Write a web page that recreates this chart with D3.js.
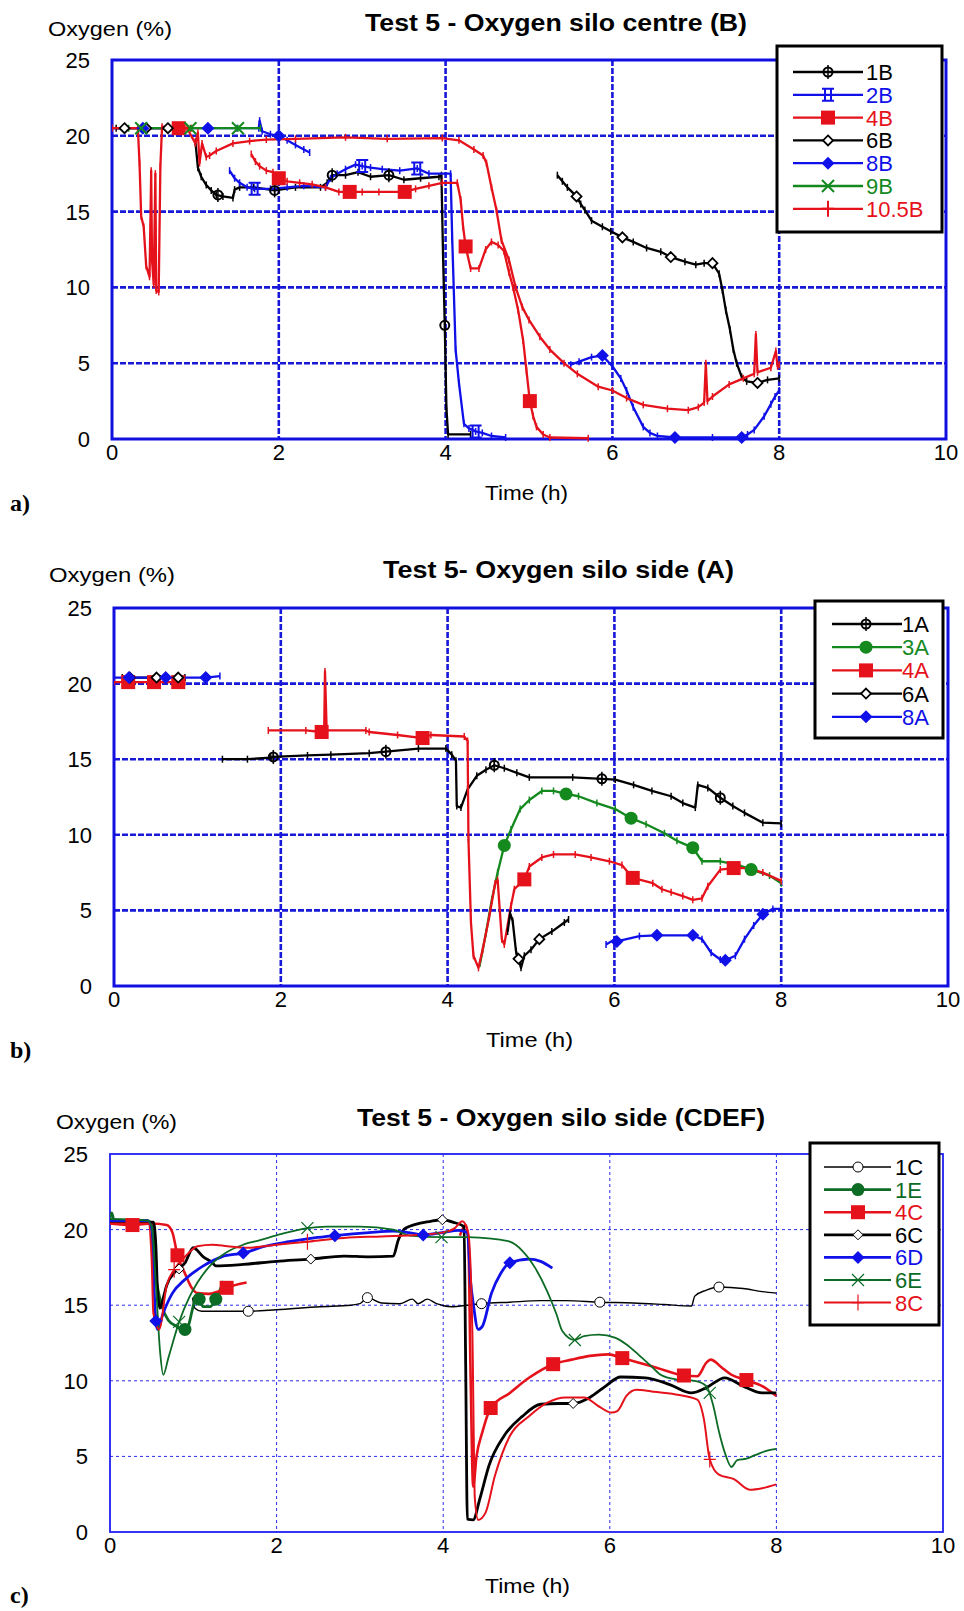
<!DOCTYPE html>
<html><head><meta charset="utf-8">
<script src="https://cdn.jsdelivr.net/npm/d3@7"></script>
<style>
html,body{margin:0;padding:0;background:#fff;}
svg{display:block;}
text{font-family:"Liberation Sans",Arial,Helvetica,sans-serif;}
</style></head><body>
<svg id="fig" width="964" height="1611"></svg>
<script>
// Shared axis ticks (time in hours, oxygen in %)
const timeTicks = [0, 2, 4, 6, 8, 10];
const oxygenTicks = [0, 5, 10, 15, 20, 25];

// ---------- (a) Test 5 - oxygen, silo centre (B) ----------
// [time h, O2 %]; null = gap in the record
const a1B = [[1.0,19.6],[1.03,17.9],[1.07,17.3],[1.13,16.75],[1.19,16.4],[1.25,16.1],[1.33,16.0],[1.45,15.9],[1.47,16.45],[1.53,16.6],[1.7,16.6],[1.95,16.4],[2.2,16.6],[2.5,16.6],[2.58,16.9],[2.64,17.4],[2.8,17.4],[2.95,17.6],[3.1,17.3],[3.32,17.4],[3.5,17.1],[3.7,17.2],[3.92,17.3],[3.95,17.4],[3.97,12.0],[3.99,7.5],[4.01,2.0],[4.03,0.3],[4.3,0.3]];
const a1Bmarks = [[1.27,16.1],[1.95,16.4],[2.64,17.4],[3.32,17.4],[3.99,7.5]];

const a2B = [[1.41,17.7],[1.47,17.2],[1.53,16.9],[1.62,16.6],[1.71,16.5],[1.9,16.5],[2.1,16.6],[2.3,16.7],[2.56,16.6],[2.62,17.2],[2.7,17.5],[2.8,17.8],[2.92,18.1],[3.0,18.0],[3.1,17.9],[3.24,17.8],[3.45,17.7],[3.66,17.85],[3.8,17.5],[4.06,17.5],[4.08,13.1],[4.12,5.9],[4.16,3.7],[4.22,1.0],[4.28,0.7],[4.36,0.5],[4.44,0.4],[4.55,0.2],[4.72,0.1]];
const a2Bmarks = [[1.71,16.5],[3.0,18.0],[3.66,17.85],[4.36,0.5]];

const a4B = [[0.0,20.5],[0.95,20.5],null,[1.67,18.8],[1.72,18.3],[1.77,18.0],[1.85,17.7],[1.93,17.6],[2.0,17.2],[2.1,17.0],[2.25,16.9],[2.4,16.8],[2.56,16.6],[2.72,16.3],[2.85,16.3],[3.0,16.3],[3.2,16.3],[3.51,16.3],[3.64,16.5],[3.8,16.7],[3.96,16.9],[4.14,16.9],[4.18,15.8],[4.21,14.0],[4.24,12.7],[4.3,11.25],[4.4,11.25],[4.48,12.5],[4.55,13.0],[4.63,12.8],[4.7,12.4],[4.76,11.0],[4.81,10.0],[4.87,8.5],[4.93,6.5],[4.97,4.5],[5.01,2.5],[5.05,1.5],[5.09,0.8],[5.17,0.3],[5.25,0.1],[5.71,0.05]];
const a4Bmarks = [[0.8,20.5],[2.0,17.2],[2.85,16.3],[3.51,16.3],[4.24,12.7],[5.01,2.5]];

const a6B = [[0.05,20.5],[0.15,20.5],[0.41,20.5],[0.67,20.5],[0.8,20.5],null,[5.34,17.4],[5.4,17.0],[5.46,16.6],[5.57,16.0],[5.62,15.5],[5.67,15.1],[5.75,14.4],[5.88,14.0],[5.98,13.7],[6.12,13.3],[6.25,13.0],[6.41,12.6],[6.58,12.35],[6.7,12.0],[6.87,11.7],[7.0,11.5],[7.1,11.6],[7.2,11.6],[7.28,10.9],[7.32,9.8],[7.36,8.5],[7.41,7.2],[7.45,5.9],[7.49,5.0],[7.55,4.1],[7.61,3.8],[7.74,3.7],[7.86,3.9],[8.0,4.0]];
const a6Bmarks = [[0.15,20.5],[0.41,20.5],[0.67,20.5],[5.57,16.0],[6.12,13.3],[6.7,12.0],[7.2,11.6],[7.74,3.7]];

const a8B = [[0.0,20.5],[0.37,20.5],[0.8,20.5],[1.15,20.5],[1.5,20.5],[1.76,20.5],[1.77,21.0],[1.8,20.3],[1.9,20.1],[2.0,20.0],[2.1,19.7],[2.2,19.4],[2.3,19.1],[2.37,18.9],null,[5.5,4.9],[5.6,5.1],[5.75,5.4],[5.88,5.5],[6.0,4.8],[6.1,4.0],[6.17,3.2],[6.25,2.1],[6.37,0.8],[6.45,0.4],[6.54,0.2],[6.75,0.1],[7.2,0.1],[7.55,0.1],[7.62,0.3],[7.7,0.6],[7.82,1.5],[7.9,2.3],[7.95,2.8],[8.0,3.2]];
const a8Bmarks = [[0.37,20.5],[1.15,20.5],[2.0,20.0],[5.88,5.5],[6.75,0.1],[7.55,0.1]];

const a9B = [[0.2,20.5],[0.35,20.5],[0.94,20.5],[1.51,20.5],[1.78,20.5]];
const a9Bmarks = [[0.35,20.5],[0.94,20.5],[1.51,20.5]];

const a105B = [[0.0,20.5],[0.31,20.5],[0.33,18.2],[0.35,14.7],[0.38,14.0],[0.41,11.4],[0.45,10.7],[0.47,17.7],[0.48,11.8],[0.5,10.2],[0.52,17.5],[0.53,9.8],[0.56,9.7],[0.58,18.0],[0.6,20.6],[0.9,20.5],[1.0,19.5],[1.03,20.2],[1.05,18.2],[1.08,19.5],[1.13,18.6],[1.17,18.7],[1.25,19.0],[1.45,19.5],[1.65,19.65],[1.85,19.75],[2.2,19.8],[2.8,19.9],[3.3,19.8],[3.96,19.85],[4.16,19.7],[4.34,19.1],[4.45,18.7],[4.49,18.2],[4.55,16.6],[4.61,15.1],[4.67,13.1],[4.76,11.8],[4.84,10.0],[4.92,8.7],[5.0,7.85],[5.13,6.75],[5.25,5.9],[5.42,5.0],[5.58,4.3],[5.83,3.45],[6.0,3.2],[6.17,2.7],[6.37,2.25],[6.66,2.0],[6.91,1.9],[7.03,2.1],[7.1,2.4],[7.12,5.0],[7.14,2.5],[7.2,2.8],[7.4,3.6],[7.57,4.0],[7.7,4.3],[7.72,6.9],[7.74,4.4],[7.9,4.7],[7.96,5.8],[7.98,4.8],[8.0,4.9]];
const a105Bmarks = [];

// ---------- (b) Test 5 - oxygen, silo side (A) ----------
const b1A = [[1.3,15.0],[1.6,15.0],[1.88,15.1],[1.91,15.15],[2.32,15.25],[2.6,15.3],[3.06,15.4],[3.26,15.5],[3.65,15.7],[3.98,15.7],[4.05,15.3],[4.1,14.9],[4.11,11.9],[4.16,11.8],[4.24,13.0],[4.35,13.9],[4.46,14.3],[4.56,14.6],[4.68,14.4],[4.83,14.1],[4.98,13.8],[5.5,13.8],[5.85,13.7],[6.01,13.65],[6.23,13.3],[6.45,12.9],[6.68,12.55],[6.82,12.1],[6.97,11.8],[7.0,13.3],[7.12,13.1],[7.27,12.45],[7.42,11.9],[7.56,11.45],[7.78,10.8],[8.0,10.75]];
const b1Amarks = [[1.91,15.15],[3.26,15.5],[4.56,14.6],[5.85,13.7],[7.27,12.45]];

const b3A = [[4.39,1.5],[4.46,3.5],[4.53,5.7],[4.6,7.5],[4.68,9.3],[4.76,10.35],[4.87,11.7],[4.98,12.3],[5.13,12.9],[5.27,12.9],[5.42,12.7],[5.57,12.55],[5.79,12.1],[6.01,11.7],[6.2,11.1],[6.38,10.7],[6.6,10.1],[6.75,9.6],[6.94,9.15],[7.05,8.25],[7.27,8.25],[7.49,8.0],[7.64,7.7],[7.86,7.3],[8.0,6.8]];
const b3Amarks = [[4.68,9.3],[5.42,12.7],[6.2,11.1],[6.94,9.15],[7.64,7.7]];

const b4A = [[0.0,20.1],[0.17,20.1],[0.48,20.1],[0.77,20.1],[0.85,20.1],null,[1.85,16.9],[2.3,16.9],[2.49,16.8],[2.52,16.8],[2.53,20.8],[2.55,16.9],[3.02,16.9],[3.06,16.8],[3.4,16.6],[3.7,16.4],[3.8,16.6],[4.2,16.5],[4.24,16.2],[4.25,9.7],[4.28,4.2],[4.31,2.0],[4.37,1.2],[4.42,2.4],[4.5,4.6],[4.57,6.8],[4.6,7.0],[4.65,3.1],[4.68,2.75],[4.76,5.3],[4.8,6.4],[4.92,7.05],[4.98,7.9],[5.13,8.5],[5.27,8.7],[5.53,8.7],[5.72,8.5],[5.94,8.25],[6.09,8.0],[6.22,7.15],[6.46,6.8],[6.57,6.4],[6.68,6.2],[6.82,5.95],[6.94,5.7],[7.05,5.8],[7.12,6.6],[7.27,7.7],[7.43,7.8],[7.6,7.8],[7.78,7.5],[8.0,6.95]];
const b4Amarks = [[0.17,20.1],[0.48,20.1],[0.77,20.1],[2.49,16.8],[3.7,16.4],[4.92,7.05],[6.22,7.15],[7.43,7.8]];

const b6A = [[0.1,20.4],[0.19,20.4],[0.51,20.4],[0.77,20.4],[0.85,20.4],null,[4.72,3.6],[4.75,4.8],[4.78,4.3],[4.82,2.3],[4.85,1.8],[4.88,1.2],[4.92,2.0],[5.0,2.4],[5.1,3.1],[5.25,3.6],[5.4,4.2],[5.45,4.4]];
const b6Amarks = [[0.19,20.4],[0.51,20.4],[0.77,20.4],[4.85,1.8],[5.1,3.1]];

const b8A = [[0.0,20.4],[0.18,20.4],[0.62,20.4],[1.1,20.4],[1.27,20.5],null,[5.9,2.75],[6.01,3.1],[6.03,2.95],[6.3,3.3],[6.51,3.35],[6.94,3.35],[7.05,3.1],[7.16,2.2],[7.27,1.75],[7.33,1.7],[7.45,2.0],[7.56,3.1],[7.67,4.0],[7.78,4.75],[7.9,5.1],[8.0,5.1]];
const b8Amarks = [[0.18,20.4],[0.62,20.4],[1.1,20.4],[6.03,2.95],[6.51,3.35],[6.94,3.35],[7.33,1.7],[7.78,4.75]];

// ---------- (c) Test 5 - oxygen, silo side (CDEF) ----------
const c1C = [[0.99,15.5],[1.02,14.8],[1.1,14.6],[1.3,14.6],[1.66,14.6],[2.0,14.7],[2.52,14.9],[2.89,15.0],[3.0,15.1],[3.09,15.5],[3.26,15.15],[3.48,15.1],[3.63,15.4],[3.7,15.1],[3.81,15.4],[3.92,15.1],[4.1,14.9],[4.29,15.0],[4.46,15.1],[4.8,15.2],[5.17,15.3],[5.47,15.3],[5.88,15.2],[6.28,15.15],[6.65,15.05],[6.98,14.95],[7.02,15.6],[7.16,16.0],[7.31,16.2],[7.6,16.1],[7.83,15.9],[8.0,15.8]];
const c1Cmarks = [[1.66,14.6],[3.09,15.5],[4.46,15.1],[5.88,15.2],[7.31,16.2]];

const c1E = [[0.0,20.8],[0.02,21.1],[0.05,20.6],[0.45,20.6],[0.5,20.3],[0.55,17.0],[0.62,15.0],[0.7,14.0],[0.8,13.6],[0.9,13.3],[0.95,13.8],[0.98,14.5],[1.02,15.3],[1.07,15.4],[1.12,14.9],[1.2,14.9],[1.27,15.4],[1.32,16.0],[1.36,16.6]];
const c1Emarks = [[0.9,13.4],[1.07,15.4],[1.27,15.4]];

const c4C = [[0.0,20.4],[0.27,20.3],[0.5,20.4],[0.68,20.3],[0.75,19.8],[0.81,18.3],[0.9,17.1],[0.97,16.25],[1.05,15.8],[1.19,15.75],[1.3,15.9],[1.4,16.15],[1.64,16.5],null,[4.2,19.6],[4.27,20.3],[4.3,19.5],[4.33,10.0],[4.36,3.0],[4.4,5.0],[4.47,6.6],[4.57,8.2],[4.8,9.2],[5.03,10.2],[5.32,11.1],[5.54,11.4],[5.76,11.65],[5.98,11.75],[6.15,11.5],[6.35,11.2],[6.57,10.85],[6.89,10.35],[7.05,10.3],[7.16,11.2],[7.21,11.4],[7.35,10.85],[7.46,10.4],[7.64,10.05],[7.83,9.65],[8.0,9.0]];
const c4Cmarks = [[0.27,20.3],[0.81,18.3],[1.4,16.15],[4.57,8.2],[5.32,11.1],[6.15,11.5],[6.89,10.35],[7.64,10.05]];

const c6C = [[0.0,20.5],[0.52,20.5],[0.55,19.0],[0.57,16.0],[0.6,14.8],[0.64,15.5],[0.68,16.3],[0.79,17.25],[0.9,17.8],[1.0,18.8],[1.12,18.2],[1.23,17.8],[1.27,17.6],[1.6,17.7],[2.0,17.9],[2.41,18.05],[2.81,18.25],[3.1,18.2],[3.4,18.25],[3.46,19.3],[3.55,20.1],[3.85,20.55],[3.99,20.65],[4.14,20.45],[4.25,20.2],[4.27,11.0],[4.29,0.85],[4.36,0.8],[4.44,2.2],[4.55,4.4],[4.73,6.35],[4.95,7.65],[5.17,8.45],[5.39,8.5],[5.56,8.5],[5.76,8.9],[5.95,9.65],[6.13,10.25],[6.43,10.2],[6.72,9.75],[6.98,9.2],[7.16,9.55],[7.38,10.2],[7.6,9.65],[7.83,9.2],[8.0,9.2]];
const c6Cmarks = [[0.83,17.4],[2.41,18.05],[3.99,20.65],[5.56,8.5]];

const c6D = [[0.0,20.6],[0.45,20.6],[0.5,20.0],[0.53,16.0],[0.55,13.95],[0.57,13.4],[0.64,14.5],[0.75,15.8],[0.9,16.7],[1.12,17.6],[1.34,18.2],[1.6,18.45],[1.86,18.9],[2.15,19.2],[2.45,19.45],[2.7,19.6],[3.11,19.8],[3.4,19.9],[3.59,19.8],[3.76,19.65],[3.99,19.8],[4.18,19.95],[4.29,19.8],[4.33,16.5],[4.36,15.15],[4.42,13.4],[4.47,13.6],[4.58,15.8],[4.69,17.1],[4.8,17.8],[5.03,18.05],[5.17,17.9],[5.31,17.45]];
const c6Dmarks = [[0.55,13.95],[1.6,18.45],[2.7,19.6],[3.76,19.65],[4.8,17.8]];

const c6E = [[0.0,20.7],[0.45,20.6],[0.5,20.2],[0.55,16.5],[0.6,12.0],[0.64,10.4],[0.7,11.5],[0.83,13.9],[0.95,15.5],[1.05,16.5],[1.2,17.6],[1.4,18.5],[1.6,19.0],[1.8,19.3],[2.05,19.7],[2.37,20.1],[2.6,20.2],[3.0,20.2],[3.4,20.0],[3.6,19.6],[3.98,19.5],[4.29,19.5],[4.58,19.4],[4.8,19.2],[4.95,18.6],[5.1,17.5],[5.25,15.9],[5.36,14.4],[5.43,13.3],[5.58,12.7],[5.69,12.95],[5.87,13.05],[6.06,12.85],[6.2,12.4],[6.35,11.7],[6.5,10.95],[6.61,10.4],[6.79,10.1],[7.02,10.0],[7.16,9.65],[7.24,8.4],[7.31,6.65],[7.39,5.1],[7.46,4.3],[7.53,4.75],[7.64,4.85],[7.75,5.1],[7.9,5.4],[8.0,5.5]];
const c6Emarks = [[0.83,13.9],[2.37,20.1],[3.98,19.5],[5.58,12.7],[7.2,9.2]];

const c8C = [[0.0,20.4],[0.46,20.4],[0.5,18.0],[0.52,14.5],[0.59,13.4],[0.68,16.3],[0.77,17.35],[0.9,18.2],[1.05,18.9],[1.23,19.0],[1.41,18.9],[1.64,18.8],[2.0,19.0],[2.37,19.2],[2.81,19.45],[3.26,19.55],[3.7,19.65],[3.99,19.8],[4.14,20.1],[4.23,20.55],[4.3,19.8],[4.35,13.2],[4.38,2.2],[4.42,0.8],[4.51,1.3],[4.62,3.7],[4.8,6.35],[5.03,7.65],[5.25,8.55],[5.47,8.9],[5.69,8.9],[5.87,8.3],[6.02,7.9],[6.09,8.0],[6.2,9.0],[6.32,9.4],[6.5,9.3],[6.79,9.1],[7.05,8.75],[7.13,7.45],[7.2,4.8],[7.31,3.8],[7.49,3.5],[7.68,2.8],[7.83,2.9],[8.0,3.15]];
const c8Cmarks = [[0.77,17.35],[2.37,19.2],[7.2,4.8]];

// ---------- styling ----------
const RED = '#e5121b', BLUE = '#1010e8', BLACK = '#000000', GREEN = '#14891e', DKGREEN = '#0c6b24';

const panels = [
  {
    frame: {l: 112, r: 946, t: 60, b: 439}, heavyGrid: true, ticks: true,
    title: {text: 'Test 5 - Oxygen silo centre (B)', x: 365, y: 31, w: 382},
    ylab: {x: 48, y: 36, w: 124}, xlab: {x: 485, y: 500, w: 83}, tag: {text: 'a)', x: 10, y: 511},
    yTickRight: 90,
    legend: {x0: 777, x1: 942, y0: 46, y1: 232, row0: 72, step: 22.8, lx0: 793, lx1: 863, mx: 828, tx: 866},
    series: [
      {name: '1B', pts: a1B, marks: a1Bmarks, color: BLACK, marker: 'circleBar', lw: 2.3},
      {name: '2B', pts: a2B, marks: a2Bmarks, color: BLUE, marker: 'gate', lw: 2.3},
      {name: '4B', pts: a4B, marks: a4Bmarks, color: RED, marker: 'square', lw: 2.3},
      {name: '6B', pts: a6B, marks: a6Bmarks, color: BLACK, marker: 'diamondOpen', lw: 2.3},
      {name: '8B', pts: a8B, marks: a8Bmarks, color: BLUE, marker: 'diamond', lw: 2.3},
      {name: '9B', pts: a9B, marks: a9Bmarks, color: GREEN, marker: 'cross', lw: 2.3},
      {name: '10.5B', pts: a105B, marks: a105Bmarks, color: RED, marker: 'plus', lw: 2.3}
    ]
  },
  {
    frame: {l: 114, r: 948, t: 608, b: 986}, heavyGrid: true, ticks: true,
    title: {text: 'Test 5- Oxygen silo side (A)', x: 383, y: 578, w: 351},
    ylab: {x: 49, y: 582, w: 126}, xlab: {x: 486, y: 1047, w: 87}, tag: {text: 'b)', x: 10, y: 1058},
    yTickRight: 92,
    legend: {x0: 815, x1: 943, y0: 601, y1: 738, row0: 624, step: 23.2, lx0: 832, lx1: 902, mx: 866, tx: 902},
    series: [
      {name: '1A', pts: b1A, marks: b1Amarks, color: BLACK, marker: 'circleBar', lw: 2.3},
      {name: '3A', pts: b3A, marks: b3Amarks, color: GREEN, marker: 'dot', lw: 2.3},
      {name: '4A', pts: b4A, marks: b4Amarks, color: RED, marker: 'square', lw: 2.3},
      {name: '6A', pts: b6A, marks: b6Amarks, color: BLACK, marker: 'diamondOpen', lw: 2.3},
      {name: '8A', pts: b8A, marks: b8Amarks, color: BLUE, marker: 'diamond', lw: 2.3}
    ]
  },
  {
    frame: {l: 110, r: 943, t: 1154, b: 1532}, heavyGrid: false, ticks: false, smooth: true,
    title: {text: 'Test 5 - Oxygen silo side (CDEF)', x: 357, y: 1126, w: 408},
    ylab: {x: 56, y: 1129, w: 121}, xlab: {x: 485, y: 1593, w: 85}, tag: {text: 'c)', x: 10, y: 1603},
    yTickRight: 88,
    legend: {x0: 810, x1: 939, y0: 1143, y1: 1325, row0: 1167, step: 22.6, lx0: 824, lx1: 891, mx: 858, tx: 895},
    series: [
      {name: '1C', pts: c1C, marks: c1Cmarks, color: BLACK, marker: 'circleOpen', lw: 1.4},
      {name: '1E', pts: c1E, marks: c1Emarks, color: DKGREEN, marker: 'dot', lw: 2.8},
      {name: '4C', pts: c4C, marks: c4Cmarks, color: RED, marker: 'square', lw: 2.6},
      {name: '6C', pts: c6C, marks: c6Cmarks, color: BLACK, marker: 'diamondOpenThin', lw: 2.8},
      {name: '6D', pts: c6D, marks: c6Dmarks, color: BLUE, marker: 'diamond', lw: 2.8},
      {name: '6E', pts: c6E, marks: c6Emarks, color: DKGREEN, marker: 'crossThin', lw: 1.8},
      {name: '8C', pts: c8C, marks: c8Cmarks, color: RED, marker: 'plusThin', lw: 2}
    ]
  }
];

const svg = d3.select('#fig');

function drawMarker(g, type, x, y, color) {
  switch (type) {
    case 'circleBar':
      g.append('line').attr('x1', x).attr('x2', x).attr('y1', y - 7).attr('y2', y + 7).attr('stroke', color).attr('stroke-width', 1.5);
      g.append('circle').attr('cx', x).attr('cy', y).attr('r', 4.5).attr('fill', '#fff').attr('fill-opacity', 0).attr('stroke', color).attr('stroke-width', 2);
      break;
    case 'circleOpen':
      g.append('circle').attr('cx', x).attr('cy', y).attr('r', 5).attr('fill', '#fff').attr('stroke', color).attr('stroke-width', 1);
      break;
    case 'dot':
      g.append('circle').attr('cx', x).attr('cy', y).attr('r', 6.5).attr('fill', color);
      break;
    case 'square':
      g.append('rect').attr('x', x - 7).attr('y', y - 7).attr('width', 14).attr('height', 14).attr('fill', color);
      break;
    case 'gate':
      g.append('path').attr('d', `M${x - 6},${y - 6}H${x + 6}M${x - 3},${y - 6}V${y + 6}M${x + 3},${y - 6}V${y + 6}M${x - 6},${y + 6}H${x + 6}`)
        .attr('fill', 'none').attr('stroke', color).attr('stroke-width', 2);
      break;
    case 'diamondOpen':
    case 'diamondOpenThin': {
      const s = 5;
      g.append('path').attr('d', `M${x},${y - s}L${x + s},${y}L${x},${y + s}L${x - s},${y}Z`)
        .attr('fill', '#fff').attr('stroke', color).attr('stroke-width', type === 'diamondOpen' ? 1.8 : 1);
      break;
    }
    case 'diamond': {
      const s = 6.5;
      g.append('path').attr('d', `M${x},${y - s}L${x + s},${y}L${x},${y + s}L${x - s},${y}Z`).attr('fill', color);
      break;
    }
    case 'cross':
    case 'crossThin': {
      const s = 6;
      g.append('path').attr('d', `M${x - s},${y - s}L${x + s},${y + s}M${x - s},${y + s}L${x + s},${y - s}`)
        .attr('stroke', color).attr('stroke-width', type === 'cross' ? 2 : 1.2);
      break;
    }
    case 'plus':
    case 'plusThin': {
      const s = 8;
      g.append('path').attr('d', `M${x},${y - s}V${y + s}M${x - 6},${y}H${x + 6}`)
        .attr('stroke', color).attr('stroke-width', type === 'plus' ? 2 : 1.2);
      break;
    }
  }
}

panels.forEach(p => {
  const f = p.frame;
  const x = d3.scaleLinear().domain([0, 10]).range([f.l, f.r]);
  const y = d3.scaleLinear().domain([0, 25]).range([f.b, f.t]);
  const g = svg.append('g');

  // grid
  const gw = p.heavyGrid ? 2.6 : 1;
  const gd = p.heavyGrid ? '6,2' : '3,3';
  const gc = p.heavyGrid ? '#1818d8' : '#2a2af2';
  g.append('g').selectAll('line').data(timeTicks.slice(1, -1)).join('line')
    .attr('x1', d => x(d)).attr('x2', d => x(d)).attr('y1', f.t).attr('y2', f.b)
    .attr('stroke', gc).attr('stroke-width', gw).attr('stroke-dasharray', gd);
  g.append('g').selectAll('line').data(oxygenTicks.slice(1, -1)).join('line')
    .attr('y1', d => y(d)).attr('y2', d => y(d)).attr('x1', f.l).attr('x2', f.r)
    .attr('stroke', gc).attr('stroke-width', gw).attr('stroke-dasharray', gd);
  g.append('rect').attr('x', f.l).attr('y', f.t).attr('width', f.r - f.l).attr('height', f.b - f.t)
    .attr('fill', 'none').attr('stroke', p.heavyGrid ? '#1010e0' : '#2020f0').attr('stroke-width', p.heavyGrid ? 3 : 1.8);

  // tick labels
  g.append('g').selectAll('text').data(timeTicks).join('text')
    .attr('x', d => x(d)).attr('y', f.b + 21).attr('text-anchor', 'middle')
    .attr('font-size', 22).text(d => d);
  g.append('g').selectAll('text').data(oxygenTicks).join('text')
    .attr('x', p.yTickRight).attr('y', d => y(d) + 8).attr('text-anchor', 'end')
    .attr('font-size', 22).text(d => d);

  // labels
  g.append('text').attr('x', p.title.x).attr('y', p.title.y).attr('font-size', 23).attr('font-weight', 'bold')
    .attr('textLength', p.title.w).attr('lengthAdjust', 'spacingAndGlyphs').text(p.title.text);
  g.append('text').attr('x', p.ylab.x).attr('y', p.ylab.y).attr('font-size', 21)
    .attr('textLength', p.ylab.w).attr('lengthAdjust', 'spacingAndGlyphs').text('Oxygen (%)');
  g.append('text').attr('x', p.xlab.x).attr('y', p.xlab.y).attr('font-size', 21)
    .attr('textLength', p.xlab.w).attr('lengthAdjust', 'spacingAndGlyphs').text('Time (h)');
  g.append('text').attr('x', p.tag.x).attr('y', p.tag.y).attr('font-size', 24).attr('font-weight', 'bold')
    .style('font-family', '"Liberation Serif","Times New Roman",serif').text(p.tag.text);

  // series
  const clip = 'clip' + f.t;
  svg.append('clipPath').attr('id', clip).append('rect')
    .attr('x', f.l).attr('y', f.t - 20).attr('width', f.r - f.l).attr('height', f.b - f.t + 30);
  const sg = g.append('g').attr('clip-path', `url(#${clip})`);
  const line = d3.line().defined(d => d !== null).x(d => x(d[0])).y(d => y(d[1]))
    .curve(p.smooth ? d3.curveMonotoneX : d3.curveLinear);
  p.series.forEach(s => {
    sg.append('path').datum(s.pts).attr('d', line).attr('fill', 'none')
      .attr('stroke', s.color).attr('stroke-width', s.lw).attr('stroke-linejoin', 'round');
    if (p.ticks) {
      sg.append('g').selectAll('line').data(s.pts.filter(d => d !== null)).join('line')
        .attr('x1', d => x(d[0])).attr('x2', d => x(d[0]))
        .attr('y1', d => y(d[1]) - 3.5).attr('y2', d => y(d[1]) + 3.5)
        .attr('stroke', s.color).attr('stroke-width', 1.5);
    }
  });
  p.series.forEach(s => {
    const mg = sg.append('g');
    s.marks.forEach(m => drawMarker(mg, s.marker, x(m[0]), y(m[1]), s.color));
  });

  // legend
  const L = p.legend;
  const lg = g.append('g');
  lg.append('rect').attr('x', L.x0).attr('y', L.y0).attr('width', L.x1 - L.x0).attr('height', L.y1 - L.y0)
    .attr('fill', '#fff').attr('stroke', '#000').attr('stroke-width', 3);
  p.series.forEach((s, i) => {
    const ry = L.row0 + i * L.step;
    lg.append('line').attr('x1', L.lx0).attr('x2', L.lx1).attr('y1', ry).attr('y2', ry)
      .attr('stroke', s.color).attr('stroke-width', s.lw);
    drawMarker(lg, s.marker, L.mx, ry, s.color);
    lg.append('text').attr('x', L.tx).attr('y', ry + 8).attr('font-size', 22)
      .attr('fill', s.color).text(s.name);
  });
});
</script>
</body></html>
